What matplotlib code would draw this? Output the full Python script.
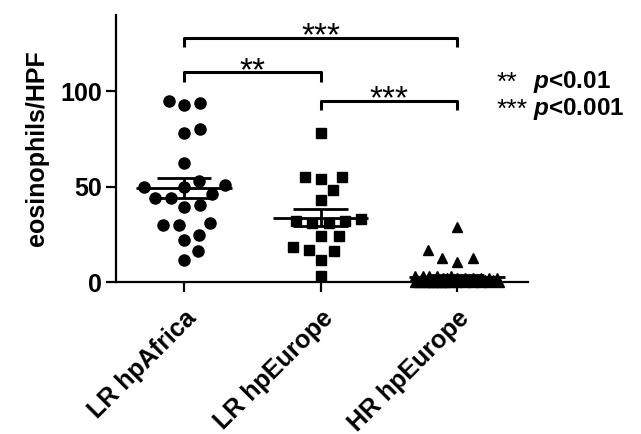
import numpy as np
import matplotlib.pyplot as plt

plt.rcParams['font.family'] = ['Liberation Sans', 'DejaVu Sans']
plt.rcParams['mathtext.fontset'] = 'custom'
plt.rcParams['mathtext.it'] = 'Liberation Sans:italic:bold'
plt.rcParams['mathtext.rm'] = 'Liberation Sans:bold'

# values (eosinophils per high power field)
groups = ['LR hpAfrica', 'LR hpEurope', 'HR hpEurope']
lr_africa = [95, 93, 94, 80, 78, 62.5, 53, 50, 50, 51, 46, 44, 39.5, 40.5, 44,
             30, 30, 31, 24.5, 22, 16, 11.5]
lr_europe = [78, 55, 54, 55, 48, 43, 32, 31, 32, 33, 31, 24, 24, 18.5, 16, 17,
             11.5, 3]
hr_europe = [29, 17, 12.5, 10.7, 12.5, 3, 3, 3, 3, 3, 2, 2, 2, 2, 2, 2, 2, 2,
             1, 1, 1, 1, 1, 1, 1, 1, 1, 1, 1, 1, 0, 0, 0, 0, 0, 0, 0, 0, 0, 0,
             0, 0, 0, 0, 0]
markers = ['o', 's', '^']
marker_sizes = [8, 7.5, 7]

# significance brackets: (left group, right group, height, label)
brackets = [(0, 2, 128, '***'), (0, 1, 110, '**'), (1, 2, 95, '***')]

fig = plt.figure(figsize=(6.41, 4.34), dpi=100)
ax = fig.add_axes([116 / 641, 1 - 282 / 434, (528 - 116) / 641, (282 - 15) / 434])
ax.set_xlim(-0.5, 2.52)
ax.set_ylim(0, 140)


def swarm(values, center, gap=16, half_width=42):
    # simple beeswarm in pixel space; points pile up once the width is used up
    pts = ax.transData.transform([(center, v) for v in values])
    x0 = pts[0, 0]
    ys = pts[:, 1]
    order = np.argsort(values, kind='stable')
    placed = []
    xs = np.zeros(len(values))
    grid = np.linspace(-half_width, half_width, 43)
    for i in order:
        y = ys[i]
        cands = [0.0]
        for xj, yj in placed:
            dy = abs(y - yj)
            if dy < gap:
                w = np.sqrt(gap ** 2 - dy ** 2)
                cands += [xj + w, xj - w]
        cands = [c for c in cands if abs(c) <= half_width + 1e-6]
        cands.sort(key=abs)
        best = None
        for c in cands:
            if all((c - xj) ** 2 + (y - yj) ** 2 >= gap ** 2 - 1e-6 for xj, yj in placed):
                best = c
                break
        if best is None:
            dist = [min((g - xj) ** 2 + (y - yj) ** 2 for xj, yj in placed) for g in grid]
            best = grid[int(np.argmax(dist))]
        placed.append((best, y))
        xs[i] = best
    inv = ax.transData.inverted()
    return [inv.transform((x0 + x, ys[0]))[0] for x in xs]


for i, vals in enumerate([lr_africa, lr_europe, hr_europe]):
    xs = swarm(vals, i)
    ax.plot(xs, vals, ls='none', marker=markers[i], ms=marker_sizes[i],
            color='black', clip_on=False, zorder=3)
    m = np.mean(vals)
    sem = np.std(vals, ddof=1) / np.sqrt(len(vals))
    ax.hlines(m, i - 0.35, i + 0.35, color='black', lw=2, zorder=4)
    ax.hlines([m - sem, m + sem], i - 0.2, i + 0.2, color='black', lw=2, zorder=4)
    ax.vlines(i, m - sem, m + sem, color='black', lw=2, zorder=4)

for a, b, h, lab in brackets:
    ax.plot([a, a, b, b], [h - 5, h, h, h - 5], color='black', lw=2.2,
            solid_capstyle='butt', clip_on=False)
    ax.text((a + b) / 2, h - 4, lab, ha='center', va='baseline', fontsize=24)

for s in ['top', 'right']:
    ax.spines[s].set_visible(False)
for s in ['left', 'bottom']:
    ax.spines[s].set_linewidth(1.6)

ax.set_yticks([0, 50, 100])
ax.set_xticks(range(3))
ax.set_xticklabels(groups, rotation=45, ha='right', va='top',
                   rotation_mode='anchor', fontsize=18, fontweight='bold')
ax.tick_params(axis='both', width=1.6, length=7, labelsize=18, pad=3)
ax.tick_params(axis='x', pad=10)
for t in ax.get_yticklabels():
    t.set_fontweight('bold')
ax.set_ylabel('eosinophils/HPF', fontsize=18, fontweight='bold', labelpad=8)

legend_rows = [('**', r'$p$<0.01', 88), ('***', r'$p$<0.001', 115)]
for stars, ptxt, ypx in legend_rows:
    fig.text(497 / 641, 1 - (ypx + 2) / 434, stars, fontsize=19, ha='left', va='baseline')
    fig.text(533 / 641, 1 - ypx / 434, ptxt, fontsize=17.5, fontweight='bold',
             ha='left', va='baseline')

fig.savefig('out.png', dpi=100)
